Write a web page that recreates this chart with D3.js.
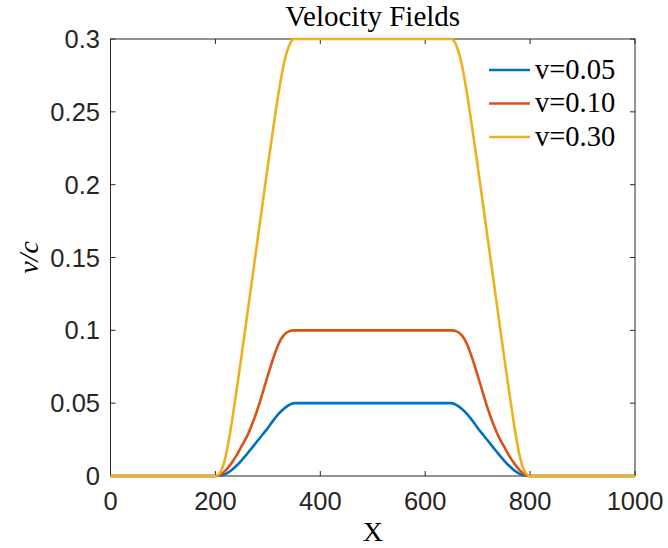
<!DOCTYPE html>
<html>
<head>
<meta charset="utf-8">
<script src="https://cdn.jsdelivr.net/npm/d3@7"></script>
<style>
  body { margin: 0; background: #fff; }
  svg { display: block; }
</style>
</head>
<body>
<script>
var width = 668;
var height = 548;

// rising half of each profile (X, v/c); the falling half mirrors it about X = 500
var xRise   = [0, 200, 210, 220, 230, 240, 250, 260, 270, 280, 290, 300, 310, 320, 330, 340, 350];
var vBlue   = [0, 0, 0.0003, 0.0015, 0.0038, 0.007, 0.0108, 0.015, 0.0195, 0.024, 0.0285, 0.033, 0.038, 0.0425, 0.046, 0.0487, 0.05];
var vOrange = [0, 0, 0.001, 0.004, 0.0085, 0.014, 0.0205, 0.027, 0.0355, 0.0455, 0.057, 0.069, 0.0805, 0.0903, 0.0965, 0.0993, 0.1];
var vYellow = [0, 0, 0.003, 0.014, 0.034, 0.058, 0.083, 0.109, 0.135, 0.161, 0.187, 0.213, 0.238, 0.262, 0.282, 0.295, 0.3];

var seriesNames = ["v=0.05", "v=0.10", "v=0.30"];
var seriesColors = ["#0072BD", "#D95319", "#EDB120"];

var xTicks = [0, 200, 400, 600, 800, 1000];
var yTicks = [0, 0.05, 0.1, 0.15, 0.2, 0.25, 0.3];

function mirror(xs, vs) {
  var pts = xs.map(function (x, i) { return { x: x, y: vs[i] }; });
  var back = pts.slice().reverse().map(function (p) { return { x: 1000 - p.x, y: p.y }; });
  return pts.concat(back);
}

var series = [
  mirror(xRise, vBlue),
  mirror(xRise, vOrange),
  mirror(xRise, vYellow)
];

var plotL = 110.5, plotR = 635, plotT = 39, plotB = 476;

var x = d3.scaleLinear().domain([0, 1000]).range([plotL, plotR]);
var y = d3.scaleLinear().domain([0, 0.3]).range([plotB, plotT]);

var svg = d3.select("body").append("svg")
  .attr("width", width)
  .attr("height", height);

var axisColor = "#262626";
var tickFmt = function (d) { return String(+d.toFixed(2)); };

// box
svg.append("rect")
  .attr("x", plotL).attr("y", plotT)
  .attr("width", plotR - plotL).attr("height", plotB - plotT)
  .attr("fill", "none").attr("stroke", axisColor).attr("stroke-width", 1);

// ticks inside on all four sides
var tickLen = 5;
var g = svg.append("g").attr("stroke", axisColor).attr("stroke-width", 1);
xTicks.forEach(function (t) {
  g.append("line").attr("x1", x(t)).attr("x2", x(t)).attr("y1", plotB).attr("y2", plotB - tickLen);
  g.append("line").attr("x1", x(t)).attr("x2", x(t)).attr("y1", plotT).attr("y2", plotT + tickLen);
});
yTicks.forEach(function (t) {
  g.append("line").attr("x1", plotL).attr("x2", plotL + tickLen).attr("y1", y(t)).attr("y2", y(t));
  g.append("line").attr("x1", plotR).attr("x2", plotR - tickLen).attr("y1", y(t)).attr("y2", y(t));
});

// tick labels
svg.selectAll(".xt").data(xTicks).enter().append("text")
  .attr("x", function (d) { return x(d); })
  .attr("y", 510)
  .attr("text-anchor", "middle")
  .attr("font-family", "Liberation Sans, Arial, sans-serif")
  .attr("font-size", 25.5)
  .attr("fill", axisColor)
  .text(tickFmt);

svg.selectAll(".yt").data(yTicks).enter().append("text")
  .attr("x", 100)
  .attr("y", function (d) { return y(d) + 9; })
  .attr("text-anchor", "end")
  .attr("font-family", "Liberation Sans, Arial, sans-serif")
  .attr("font-size", 25.5)
  .attr("fill", axisColor)
  .text(tickFmt);

// lines
var line = d3.line()
  .x(function (d) { return x(d.x); })
  .y(function (d) { return y(d.y); })
  .curve(d3.curveMonotoneX);

svg.selectAll(".series").data(series).enter().append("path")
  .attr("d", line)
  .attr("fill", "none")
  .attr("stroke", function (d, i) { return seriesColors[i]; })
  .attr("stroke-width", 2.6)
  .attr("stroke-linejoin", "round");

// title and axis labels
svg.append("text")
  .attr("x", (plotL + plotR) / 2).attr("y", 26)
  .attr("text-anchor", "middle")
  .attr("font-family", "Liberation Serif, Times New Roman, serif")
  .attr("font-size", 29)
  .attr("fill", "#000")
  .text("Velocity Fields");

svg.append("text")
  .attr("x", (plotL + plotR) / 2).attr("y", 541)
  .attr("text-anchor", "middle")
  .attr("font-family", "Liberation Serif, Times New Roman, serif")
  .attr("font-size", 28)
  .attr("fill", "#000")
  .text("X");

svg.append("text")
  .attr("transform", "translate(38," + ((plotT + plotB) / 2) + ") rotate(-90)")
  .attr("text-anchor", "middle")
  .attr("font-family", "Liberation Serif, Times New Roman, serif")
  .attr("font-style", "italic")
  .attr("font-size", 28)
  .attr("fill", "#000")
  .text("v/c");

// legend
var legend = svg.append("g");
seriesNames.forEach(function (name, i) {
  var ly = 70 + i * 33.5;
  legend.append("line")
    .attr("x1", 489).attr("x2", 530).attr("y1", ly).attr("y2", ly)
    .attr("stroke", seriesColors[i]).attr("stroke-width", 2.6);
  legend.append("text")
    .attr("x", 535).attr("y", ly + 8.5)
    .attr("font-family", "Liberation Serif, Times New Roman, serif")
    .attr("font-size", 28.5)
    .attr("fill", "#000")
    .text(name);
});
</script>
</body>
</html>
